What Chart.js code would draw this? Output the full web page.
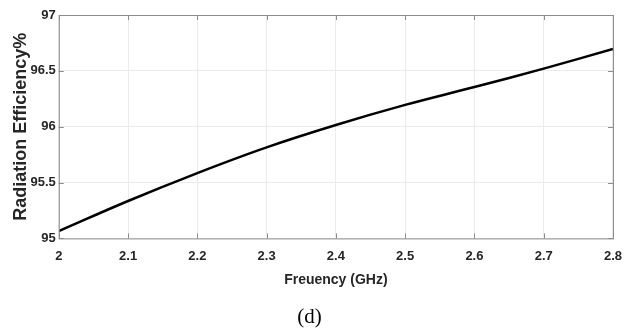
<!DOCTYPE html>
<html>
<head>
<meta charset="utf-8">
<script src="https://cdn.jsdelivr.net/npm/chart.js@4.4.1/dist/chart.umd.min.js"></script>
<style>
  html, body { margin: 0; padding: 0; background: #fff; }
  #wrap { width: 625px; height: 328px; position: relative; }
</style>
</head>
<body>
<div id="wrap"><canvas id="eff-chart"></canvas></div>
<script>
// values
const freq_ghz = [2.0, 2.1, 2.2, 2.3, 2.4, 2.5, 2.6, 2.7, 2.8]
const efficiency = [95.065, 95.335, 95.585, 95.815, 96.015, 96.195, 96.355, 96.52, 96.695]
const x_ticks = [2, 2.1, 2.2, 2.3, 2.4, 2.5, 2.6, 2.7, 2.8]
const y_ticks = [95, 95.5, 96, 96.5, 97]

const tickFont = { family: "'Liberation Sans', Arial", size: 13, weight: 'bold' }

// matlab style box round the axes
const boxPlugin = {
    id: 'box',
    afterDraw: (chart) => {
        const { ctx, chartArea: a } = chart
        ctx.save()
        ctx.strokeStyle = '#8c8c8c'
        ctx.lineWidth = 1
        ctx.strokeRect(a.left + 0.5, a.top + 0.5, a.right - a.left, a.bottom - a.top)
        // small inward ticks on all four sides
        ctx.beginPath()
        chart.scales.x.ticks.forEach(t => {
            const px = Math.round(chart.scales.x.getPixelForValue(t.value)) + 0.5
            ctx.moveTo(px, a.top); ctx.lineTo(px, a.top + 5)
            ctx.moveTo(px, a.bottom); ctx.lineTo(px, a.bottom - 5)
        })
        chart.scales.y.ticks.forEach(t => {
            const py = Math.round(chart.scales.y.getPixelForValue(t.value)) + 0.5
            ctx.moveTo(a.right, py); ctx.lineTo(a.right - 5, py)
            ctx.moveTo(a.left, py); ctx.lineTo(a.left + 5, py)
        })
        ctx.stroke()
        ctx.restore()
    }
}

const ctx = document.getElementById('eff-chart')
new Chart(ctx, {
    type: 'line',
    data: {
        datasets: [{
            data: freq_ghz.map((f, i) => ({ x: f, y: efficiency[i] })),
            borderColor: '#000',
            borderWidth: 2.5,
            pointRadius: 0,
            tension: 0.4,
            fill: false,
        }]
    },
    options: {
        responsive: true,
        maintainAspectRatio: false,
        animation: false,
        layout: { padding: { top: 15, right: 7, left: 1, bottom: 0 } },
        scales: {
            x: {
                type: 'linear',
                min: 2, max: 2.8,
                afterBuildTicks: (s) => { s.ticks = x_ticks.map(v => ({ value: v })) },
                ticks: { color: '#262626', font: tickFont, padding: 3, maxRotation: 0,
                    callback: (v) => String(+v.toFixed(1)) },
                grid: { color: '#ebebeb', drawTicks: true, tickLength: 7, tickColor: 'rgba(0,0,0,0)' },
                border: { display: false },
                title: { display: true, text: 'Freuency (GHz)', color: '#262626',
                    font: { family: "'Liberation Sans', Arial", size: 14, weight: 'bold', lineHeight: 1 },
                    padding: { top: 6, bottom: 5 } }
            },
            y: {
                min: 95, max: 97,
                afterBuildTicks: (s) => { s.ticks = y_ticks.map(v => ({ value: v })) },
                ticks: { color: '#262626', font: tickFont, padding: 3,
                    callback: (v) => String(v) },
                grid: { color: '#ebebeb', drawTicks: false },
                border: { display: false },
                title: { display: true, text: 'Radiation Efficiency%', color: '#262626',
                    font: { family: "'Liberation Sans', Arial", size: 18, weight: 'bold', lineHeight: 0.75 },
                    padding: { top: 13, bottom: 0 } }
            }
        },
        plugins: {
            legend: { display: false },
            tooltip: { enabled: false },
            title: {
                display: true,
                position: 'bottom',
                text: '(d)',
                color: '#000',
                font: { family: "'Liberation Serif', 'Times New Roman', serif", size: 21, weight: 'normal', lineHeight: 1 },
                padding: { top: 15, bottom: 0 }
            }
        }
    },
    plugins: [boxPlugin]
})
</script>
</body>
</html>
